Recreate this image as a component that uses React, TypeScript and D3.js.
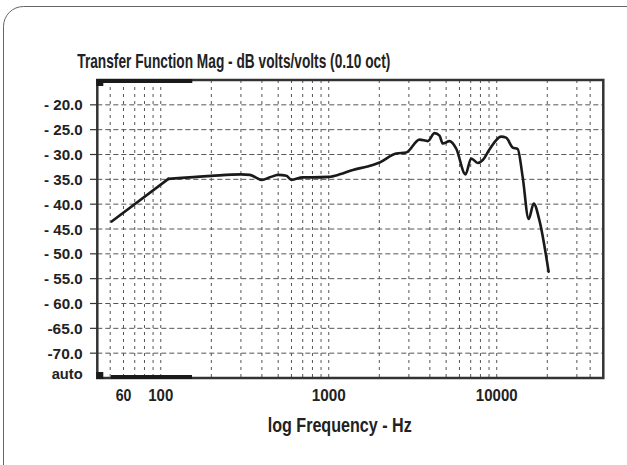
import React from "react";
import * as d3 from "d3";

const freqs = [51, 111, 200, 300, 339, 400, 446, 500, 560, 600, 700, 800, 1000, 1164, 1393, 1700, 2010, 2525, 2894, 3473, 3890, 4265, 4565, 4777, 5236, 5739, 6516, 7046, 7712, 8258, 9050, 10620, 11370, 12450, 13330, 14270, 15490, 16600, 17940, 20370];
const mags = [-43.5, -34.9, -34.3, -34.0, -34.1, -35.1, -34.6, -34.1, -34.3, -35.1, -34.6, -34.6, -34.5, -34.0, -33.1, -32.4, -31.6, -29.8, -29.6, -27.0, -27.3, -25.7, -26.2, -27.8, -27.3, -28.8, -34.0, -30.8, -31.7, -31.1, -29.0, -26.4, -26.6, -28.6, -28.9, -34.5, -43.0, -39.9, -43.2, -53.6];

const yTicks = [-20, -25, -30, -35, -40, -45, -50, -55, -60, -65, -70, -75];
const yLabels = ["- 20.0", "- 25.0", "- 30.0", "- 35.0", "- 40.0", "- 45.0", "- 50.0", "- 55.0", "- 60.0", "-65.0", "-70.0", "auto"];
const xGrid = [50, 60, 70, 80, 90, 100, 200, 300, 400, 500, 600, 700, 800, 900, 1000, 2000, 3000, 4000, 5000, 6000, 7000, 8000, 9000, 10000, 20000, 30000, 36000];
const xTicks = [60, 100, 1000, 10000];
const xLabels = ["60", "100", "1000", "10000"];
const xLabelW = [15.7, 25, 34, 41.7];

const title = "Transfer Function Mag - dB volts/volts (0.10 oct)";
const xTitle = "log Frequency - Hz";

const W = 627, H = 465;
const L = 97.3, R = 603.3, T = 80, B = 378;
const FONT = "'Liberation Sans', Arial, sans-serif";

export default function App() {
  const x = d3.scaleLog().domain([41.9, 43100]).range([L, R]);
  const y = d3.scaleLinear().domain([-75, -15]).range([B, T]);
  const pts: [number, number][] = freqs.map((f, i) => [f, mags[i]]);
  const straight = d3.line<[number, number]>()
    .x(d => x(d[0]))
    .y(d => y(d[1]));
  const smooth = d3.line<[number, number]>()
    .x(d => x(d[0]))
    .y(d => y(d[1]))
    .curve(d3.curveMonotoneX);

  return (
    <svg width={W} height={H} style={{ position: "fixed", left: 0, top: 0, background: "#fff" }} fontFamily={FONT}>
      <rect x={0} y={0} width={W} height={H} fill="#fff" />
      <rect x={3.5} y={6.5} width={660} height={500} rx={20} ry={20} fill="none" stroke="#666" strokeWidth={1} />
      <text x={77.3} y={68} fontSize={21} fontWeight="bold" fill="#222" textLength={313} lengthAdjust="spacingAndGlyphs">{title}</text>

      {/* grid */}
      {yTicks.filter(v => v !== -75).map(v => (
        <line key={"h" + v} x1={L} x2={R} y1={y(v)} y2={y(v)} stroke="#555" strokeWidth={1} strokeDasharray="5,3" />
      ))}
      {xGrid.map(v => (
        <line key={"v" + v} x1={x(v)} x2={x(v)} y1={T} y2={B} stroke="#555" strokeWidth={1} strokeDasharray="3,4" />
      ))}
      {/* left ticks */}
      {yTicks.filter(v => v !== -75).map(v => (
        <line key={"t" + v} x1={90} x2={L} y1={y(v)} y2={y(v)} stroke="#333" strokeWidth={1.2} />
      ))}

      {/* curve */}
      <path d={straight(pts.slice(0, 2)) || ""} fill="none" stroke="#1a1a1a" strokeWidth={2.6} strokeLinecap="round" />
      <path d={smooth(pts.slice(1)) || ""} fill="none" stroke="#1a1a1a" strokeWidth={2.6} strokeLinejoin="round" strokeLinecap="round" />

      {/* frame */}
      <rect x={L} y={T} width={R - L} height={B - T} fill="none" stroke="#333" strokeWidth={2.5} />
      <rect x={L - 1} y={T - 1} width={7} height={7} fill="#1a1a1a" />
      <rect x={L} y={T - 1} width={95} height={4} fill="#1a1a1a" />
      <rect x={L - 1} y={B - 6} width={7} height={7} fill="#1a1a1a" />
      <rect x={111} y={B - 3} width={81} height={4} fill="#1a1a1a" />

      {/* y labels */}
      {yTicks.map((v, i) => {
        const lab = yLabels[i];
        const w = lab === "auto" ? 31 : lab.startsWith("- ") ? 38.7 : 35.3;
        const yy = lab === "auto" ? y(v) - 5 : y(v);
        return (
          <text key={"yl" + v} x={82.7 - w} y={yy + 5.5} fontSize={15.5} fontWeight="bold" fill="#222" textLength={w} lengthAdjust="spacingAndGlyphs">{lab}</text>
        );
      })}

      {/* x labels */}
      {xTicks.map((v, i) => (
        <text key={"xl" + v} x={x(v) - xLabelW[i] / 2} y={400.5} fontSize={17} fontWeight="bold" fill="#222" textLength={xLabelW[i]} lengthAdjust="spacingAndGlyphs">{xLabels[i]}</text>
      ))}

      <text x={267.7} y={431.7} fontSize={20} fontWeight="bold" fill="#222" textLength={144} lengthAdjust="spacingAndGlyphs">{xTitle}</text>
    </svg>
  );
}
